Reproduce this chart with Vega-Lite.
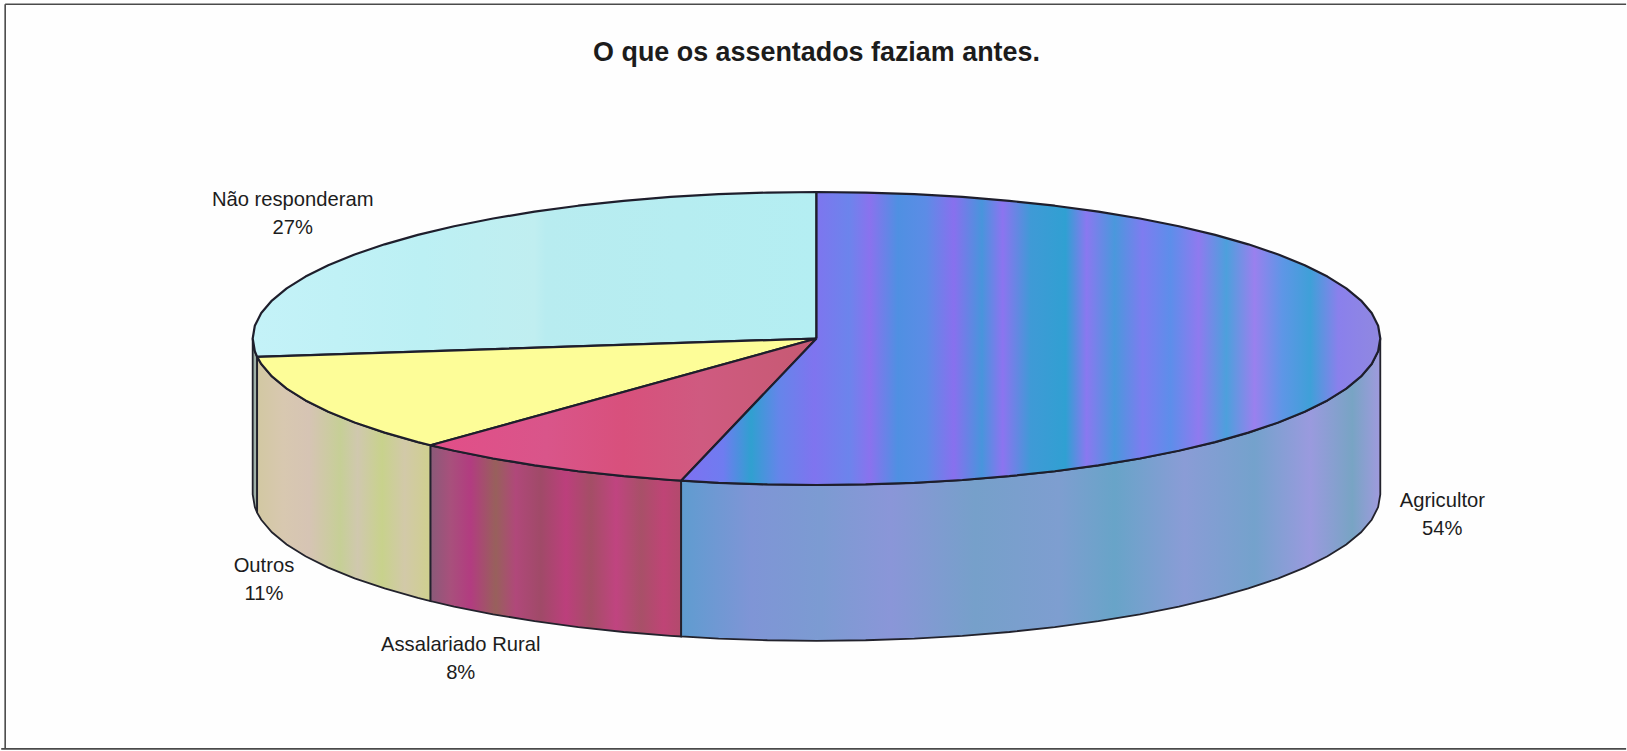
{
  "$schema": "https://vega.github.io/schema/vega-lite/v6.json",
  "autosize": {"type": "fit", "contains": "padding"},
  "width": 1627,
  "height": 751,
  "padding": 0,
  "background": "#fefefe",
  "view": {"stroke": null},
  "datasets": {
    "topo": [
      {"f":"Agricultor","i":0,"x":0,"y":0},{"f":"Agricultor","i":1,"x":0,"y":25.95},{"f":"Agricultor","i":2,"x":8.72,"y":25.85},{"f":"Agricultor","i":3,"x":17.36,"y":25.56},{"f":"Agricultor","i":4,"x":25.88,"y":25.07},{"f":"Agricultor","i":5,"x":34.2,"y":24.39},{"f":"Agricultor","i":6,"x":42.26,"y":23.52},{"f":"Agricultor","i":7,"x":50,"y":22.47},{"f":"Agricultor","i":8,"x":57.36,"y":21.26},{"f":"Agricultor","i":9,"x":64.28,"y":19.88},{"f":"Agricultor","i":10,"x":70.71,"y":18.35},{"f":"Agricultor","i":11,"x":76.6,"y":16.68},{"f":"Agricultor","i":12,"x":81.92,"y":14.88},{"f":"Agricultor","i":13,"x":86.6,"y":12.98},{"f":"Agricultor","i":14,"x":90.63,"y":10.97},{"f":"Agricultor","i":15,"x":93.97,"y":8.88},{"f":"Agricultor","i":16,"x":96.59,"y":6.72},{"f":"Agricultor","i":17,"x":98.48,"y":4.51},{"f":"Agricultor","i":18,"x":99.62,"y":2.26},{"f":"Agricultor","i":19,"x":100,"y":0},
      {"f":"Agricultor","i":20,"x":99.62,"y":-2.26},{"f":"Agricultor","i":21,"x":98.48,"y":-4.51},{"f":"Agricultor","i":22,"x":96.59,"y":-6.72},{"f":"Agricultor","i":23,"x":93.97,"y":-8.88},{"f":"Agricultor","i":24,"x":90.63,"y":-10.97},{"f":"Agricultor","i":25,"x":86.6,"y":-12.98},{"f":"Agricultor","i":26,"x":81.92,"y":-14.88},{"f":"Agricultor","i":27,"x":76.6,"y":-16.68},{"f":"Agricultor","i":28,"x":70.71,"y":-18.35},{"f":"Agricultor","i":29,"x":64.28,"y":-19.88},{"f":"Agricultor","i":30,"x":57.36,"y":-21.26},{"f":"Agricultor","i":31,"x":50,"y":-22.47},{"f":"Agricultor","i":32,"x":42.26,"y":-23.52},{"f":"Agricultor","i":33,"x":34.2,"y":-24.39},{"f":"Agricultor","i":34,"x":25.88,"y":-25.07},{"f":"Agricultor","i":35,"x":17.36,"y":-25.56},{"f":"Agricultor","i":36,"x":8.72,"y":-25.85},{"f":"Agricultor","i":37,"x":0,"y":-25.95},{"f":"Agricultor","i":38,"x":-8.72,"y":-25.85},{"f":"Agricultor","i":39,"x":-17.36,"y":-25.56},{"f":"Agricultor","i":40,"x":-24,"y":-25.19},{"f":"Agricultor","i":41,"x":0,"y":0},
      {"f":"Assalariado Rural","i":0,"x":0,"y":0},{"f":"Assalariado Rural","i":1,"x":-24,"y":-25.19},{"f":"Assalariado Rural","i":2,"x":-25.88,"y":-25.07},{"f":"Assalariado Rural","i":3,"x":-34.2,"y":-24.39},{"f":"Assalariado Rural","i":4,"x":-42.26,"y":-23.52},{"f":"Assalariado Rural","i":5,"x":-50,"y":-22.47},{"f":"Assalariado Rural","i":6,"x":-57.36,"y":-21.26},{"f":"Assalariado Rural","i":7,"x":-64.28,"y":-19.88},{"f":"Assalariado Rural","i":8,"x":-68.45,"y":-18.92},{"f":"Assalariado Rural","i":9,"x":0,"y":0},
      {"f":"Outros","i":0,"x":0,"y":0},{"f":"Outros","i":1,"x":-68.45,"y":-18.92},{"f":"Outros","i":2,"x":-70.71,"y":-18.35},{"f":"Outros","i":3,"x":-76.6,"y":-16.68},{"f":"Outros","i":4,"x":-81.92,"y":-14.88},{"f":"Outros","i":5,"x":-86.6,"y":-12.98},{"f":"Outros","i":6,"x":-90.63,"y":-10.97},{"f":"Outros","i":7,"x":-93.97,"y":-8.88},{"f":"Outros","i":8,"x":-96.59,"y":-6.72},{"f":"Outros","i":9,"x":-98.48,"y":-4.51},{"f":"Outros","i":10,"x":-99.21,"y":-3.25},{"f":"Outros","i":11,"x":0,"y":0},
      {"f":"Não responderam","i":0,"x":0,"y":0},{"f":"Não responderam","i":1,"x":-99.21,"y":-3.25},{"f":"Não responderam","i":2,"x":-99.62,"y":-2.26},{"f":"Não responderam","i":3,"x":-100,"y":0},{"f":"Não responderam","i":4,"x":-99.62,"y":2.26},{"f":"Não responderam","i":5,"x":-98.48,"y":4.51},{"f":"Não responderam","i":6,"x":-96.59,"y":6.72},{"f":"Não responderam","i":7,"x":-93.97,"y":8.88},{"f":"Não responderam","i":8,"x":-90.63,"y":10.97},{"f":"Não responderam","i":9,"x":-86.6,"y":12.98},{"f":"Não responderam","i":10,"x":-81.92,"y":14.88},{"f":"Não responderam","i":11,"x":-76.6,"y":16.68},{"f":"Não responderam","i":12,"x":-70.71,"y":18.35},{"f":"Não responderam","i":13,"x":-64.28,"y":19.88},{"f":"Não responderam","i":14,"x":-57.36,"y":21.26},{"f":"Não responderam","i":15,"x":-50,"y":22.47},{"f":"Não responderam","i":16,"x":-42.26,"y":23.52},{"f":"Não responderam","i":17,"x":-34.2,"y":24.39},{"f":"Não responderam","i":18,"x":-25.88,"y":25.07},{"f":"Não responderam","i":19,"x":-17.36,"y":25.56},{"f":"Não responderam","i":20,"x":-8.72,"y":25.85},{"f":"Não responderam","i":21,"x":0,"y":25.95},{"f":"Não responderam","i":22,"x":0,"y":0}
    ],
    "lateral": [
      {"f":"Agricultor","x":-24,"y":-25.19,"y2":-52.79},{"f":"Agricultor","x":-17.36,"y":-25.56,"y2":-53.16},{"f":"Agricultor","x":-8.72,"y":-25.85,"y2":-53.45},{"f":"Agricultor","x":0,"y":-25.95,"y2":-53.55},{"f":"Agricultor","x":8.72,"y":-25.85,"y2":-53.45},{"f":"Agricultor","x":17.36,"y":-25.56,"y2":-53.16},{"f":"Agricultor","x":25.88,"y":-25.07,"y2":-52.67},{"f":"Agricultor","x":34.2,"y":-24.39,"y2":-51.99},{"f":"Agricultor","x":42.26,"y":-23.52,"y2":-51.12},{"f":"Agricultor","x":50,"y":-22.47,"y2":-50.07},{"f":"Agricultor","x":57.36,"y":-21.26,"y2":-48.86},{"f":"Agricultor","x":64.28,"y":-19.88,"y2":-47.48},{"f":"Agricultor","x":70.71,"y":-18.35,"y2":-45.95},{"f":"Agricultor","x":76.6,"y":-16.68,"y2":-44.28},{"f":"Agricultor","x":81.92,"y":-14.88,"y2":-42.48},{"f":"Agricultor","x":86.6,"y":-12.98,"y2":-40.58},{"f":"Agricultor","x":90.63,"y":-10.97,"y2":-38.57},{"f":"Agricultor","x":93.97,"y":-8.88,"y2":-36.48},{"f":"Agricultor","x":96.59,"y":-6.72,"y2":-34.32},{"f":"Agricultor","x":98.48,"y":-4.51,"y2":-32.11},{"f":"Agricultor","x":99.62,"y":-2.26,"y2":-29.86},{"f":"Agricultor","x":100,"y":0,"y2":-27.6},
      {"f":"Assalariado Rural","x":-68.45,"y":-18.92,"y2":-46.52},{"f":"Assalariado Rural","x":-64.28,"y":-19.88,"y2":-47.48},{"f":"Assalariado Rural","x":-57.36,"y":-21.26,"y2":-48.86},{"f":"Assalariado Rural","x":-50,"y":-22.47,"y2":-50.07},{"f":"Assalariado Rural","x":-42.26,"y":-23.52,"y2":-51.12},{"f":"Assalariado Rural","x":-34.2,"y":-24.39,"y2":-51.99},{"f":"Assalariado Rural","x":-25.88,"y":-25.07,"y2":-52.67},{"f":"Assalariado Rural","x":-24,"y":-25.19,"y2":-52.79},
      {"f":"Outros","x":-99.21,"y":-3.25,"y2":-30.85},{"f":"Outros","x":-98.48,"y":-4.51,"y2":-32.11},{"f":"Outros","x":-96.59,"y":-6.72,"y2":-34.32},{"f":"Outros","x":-93.97,"y":-8.88,"y2":-36.48},{"f":"Outros","x":-90.63,"y":-10.97,"y2":-38.57},{"f":"Outros","x":-86.6,"y":-12.98,"y2":-40.58},{"f":"Outros","x":-81.92,"y":-14.88,"y2":-42.48},{"f":"Outros","x":-76.6,"y":-16.68,"y2":-44.28},{"f":"Outros","x":-70.71,"y":-18.35,"y2":-45.95},{"f":"Outros","x":-68.45,"y":-18.92,"y2":-46.52},
      {"f":"Não responderam","x":-100,"y":0,"y2":-27.6},{"f":"Não responderam","x":-99.62,"y":-2.26,"y2":-29.86},{"f":"Não responderam","x":-99.21,"y":-3.25,"y2":-30.85}
    ],
    "fatias": [
      {"f":"Agricultor","parte":0.54,"x":111.0,"y":-31.3},
      {"f":"Assalariado Rural","parte":0.08,"x":-63.1,"y":-56.7},
      {"f":"Outros","parte":0.11,"x":-98.0,"y":-42.7},
      {"f":"Não responderam","parte":0.27,"x":-92.9,"y":22.0}
    ],
    "moldura": [
      {"x":-143.9,"x2":143.6,"y":59.2,"y2":59.2,"peso":"fino"},
      {"x":-143.9,"x2":-143.9,"y":59.2,"y2":-72.7,"peso":"fino"},
      {"x":-144.6,"x2":143.6,"y":-72.7,"y2":-72.7,"peso":"forte"}
    ],
    "titulo": [{"t":"O que os assentados faziam antes.","x":0,"y":50.5}]
  },
  "layer": [
    {
      "data": {"name": "moldura"},
      "mark": {"type": "rule", "stroke": "#4a4a4a", "strokeWidth": 1.6},
      "encoding": {
        "x": {"field": "x", "type": "quantitative", "axis": null, "scale": {"domain": [-144.64, 143.58], "nice": false, "zero": false}},
        "x2": {"field": "x2"},
        "y": {"field": "y", "type": "quantitative", "axis": null, "scale": {"domain": [-73.07, 59.96], "nice": false, "zero": false}},
        "y2": {"field": "y2"},
        "strokeWidth": {"field": "peso", "type": "nominal", "legend": null, "scale": {"domain": ["fino", "forte"], "range": [1.5, 2.6]}}
      }
    },
    {
      "data": {"name": "lateral"},
      "transform": [{"filter": "datum.f === 'Não responderam'"}],
      "mark": {"type": "area", "fill": "#9fb0a8", "stroke": "#22222c", "strokeWidth": 1.8},
      "encoding": {"x": {"field": "x", "type": "quantitative"}, "y": {"field": "y", "type": "quantitative"}, "y2": {"field": "y2"}}
    },
    {
      "data": {"name": "lateral"},
      "transform": [{"filter": "datum.f === 'Outros'"}],
      "mark": {"type": "area", "stroke": "#22222c", "strokeWidth": 1.8, "fill": {"gradient": "linear", "x1": 0, "y1": 0, "x2": 1, "y2": 0, "stops": [
        {"offset": 0, "color": "#d2c8a2"}, {"offset": 0.15, "color": "#d8c8b0"}, {"offset": 0.3, "color": "#d6c4b4"}, {"offset": 0.48, "color": "#c6cf96"}, {"offset": 0.58, "color": "#d0c8ae"}, {"offset": 0.72, "color": "#c8d28c"}, {"offset": 0.85, "color": "#d2c9a8"}, {"offset": 1, "color": "#cfd08e"}
      ]}},
      "encoding": {"x": {"field": "x", "type": "quantitative"}, "y": {"field": "y", "type": "quantitative"}, "y2": {"field": "y2"}}
    },
    {
      "data": {"name": "lateral"},
      "transform": [{"filter": "datum.f === 'Assalariado Rural'"}],
      "mark": {"type": "area", "stroke": "#22222c", "strokeWidth": 1.8, "fill": {"gradient": "linear", "x1": 0, "y1": 0, "x2": 1, "y2": 0, "stops": [
        {"offset": 0, "color": "#8a5a78"}, {"offset": 0.08, "color": "#a8507c"}, {"offset": 0.16, "color": "#b23c80"}, {"offset": 0.26, "color": "#98605c"}, {"offset": 0.34, "color": "#b0487a"}, {"offset": 0.44, "color": "#a04a68"}, {"offset": 0.54, "color": "#bc3f7c"}, {"offset": 0.64, "color": "#a44e66"}, {"offset": 0.74, "color": "#c04480"}, {"offset": 0.84, "color": "#a85068"}, {"offset": 0.93, "color": "#bf4476"}, {"offset": 1, "color": "#b24a6c"}
      ]}},
      "encoding": {"x": {"field": "x", "type": "quantitative"}, "y": {"field": "y", "type": "quantitative"}, "y2": {"field": "y2"}}
    },
    {
      "data": {"name": "lateral"},
      "transform": [{"filter": "datum.f === 'Agricultor'"}],
      "mark": {"type": "area", "stroke": "#22222c", "strokeWidth": 1.8, "fill": {"gradient": "linear", "x1": 0, "y1": 0, "x2": 1, "y2": 0, "stops": [
        {"offset": 0, "color": "#5f9cd0"}, {"offset": 0.1, "color": "#7f95d6"}, {"offset": 0.2, "color": "#7c9bd2"}, {"offset": 0.3, "color": "#8a96d8"}, {"offset": 0.42, "color": "#76a0ca"}, {"offset": 0.54, "color": "#7e9ed0"}, {"offset": 0.62, "color": "#68a4c8"}, {"offset": 0.72, "color": "#8a9cd6"}, {"offset": 0.82, "color": "#74a2cc"}, {"offset": 0.9, "color": "#9a9ade"}, {"offset": 0.96, "color": "#78a4c4"}, {"offset": 1, "color": "#a09ade"}
      ]}},
      "encoding": {"x": {"field": "x", "type": "quantitative"}, "y": {"field": "y", "type": "quantitative"}, "y2": {"field": "y2"}}
    },
    {
      "data": {"name": "topo"},
      "transform": [{"filter": "datum.f === 'Não responderam'"}],
      "mark": {"type": "line", "stroke": "#1e1e2c", "strokeWidth": 2.2, "strokeJoin": "round", "fill": {"gradient": "linear", "x1": 0, "y1": 0, "x2": 1, "y2": 0, "stops": [
        {"offset": 0, "color": "#c4f2f8"}, {"offset": 0.3, "color": "#bcf0f4"}, {"offset": 0.5, "color": "#c0eef0"}, {"offset": 0.52, "color": "#b8ecf0"}, {"offset": 1, "color": "#b4eef2"}
      ]}},
      "encoding": {"x": {"field": "x", "type": "quantitative"}, "y": {"field": "y", "type": "quantitative"}, "order": {"field": "i", "type": "quantitative"}}
    },
    {
      "data": {"name": "topo"},
      "transform": [{"filter": "datum.f === 'Outros'"}],
      "mark": {"type": "line", "fill": "#fdfd98", "stroke": "#1e1e2c", "strokeWidth": 2.2, "strokeJoin": "round"},
      "encoding": {"x": {"field": "x", "type": "quantitative"}, "y": {"field": "y", "type": "quantitative"}, "order": {"field": "i", "type": "quantitative"}}
    },
    {
      "data": {"name": "topo"},
      "transform": [{"filter": "datum.f === 'Assalariado Rural'"}],
      "mark": {"type": "line", "stroke": "#1e1e2c", "strokeWidth": 2.2, "strokeJoin": "round", "fill": {"gradient": "linear", "x1": 0, "y1": 0, "x2": 1, "y2": 0, "stops": [
        {"offset": 0, "color": "#e24e88"}, {"offset": 0.3, "color": "#d9558a"}, {"offset": 0.5, "color": "#d8507c"}, {"offset": 0.7, "color": "#cf5a80"}, {"offset": 1, "color": "#c65a72"}
      ]}},
      "encoding": {"x": {"field": "x", "type": "quantitative"}, "y": {"field": "y", "type": "quantitative"}, "order": {"field": "i", "type": "quantitative"}}
    },
    {
      "data": {"name": "topo"},
      "transform": [{"filter": "datum.f === 'Agricultor'"}],
      "mark": {"type": "line", "stroke": "#1e1e2c", "strokeWidth": 2.2, "strokeJoin": "round", "fill": {"gradient": "linear", "x1": 0, "y1": 0, "x2": 1, "y2": 0, "stops": [
        {"offset": 0, "color": "#7f70f2"}, {"offset": 0.06, "color": "#6f7cf0"}, {"offset": 0.1, "color": "#30a0d0"}, {"offset": 0.14, "color": "#6585ea"}, {"offset": 0.19, "color": "#7f74ef"}, {"offset": 0.24, "color": "#6c84ec"}, {"offset": 0.27, "color": "#8a72ee"}, {"offset": 0.31, "color": "#4f90e2"}, {"offset": 0.35, "color": "#5c8ce6"}, {"offset": 0.39, "color": "#8870ee"}, {"offset": 0.43, "color": "#4895dc"}, {"offset": 0.46, "color": "#8c74f0"}, {"offset": 0.5, "color": "#3f9ad6"}, {"offset": 0.55, "color": "#30a0d2"}, {"offset": 0.58, "color": "#8a78f0"}, {"offset": 0.62, "color": "#4a98dc"}, {"offset": 0.66, "color": "#7e7cf0"}, {"offset": 0.7, "color": "#5d8eea"}, {"offset": 0.74, "color": "#8f7aef"}, {"offset": 0.78, "color": "#4da0dc"}, {"offset": 0.82, "color": "#9a80ee"}, {"offset": 0.86, "color": "#5e96e6"}, {"offset": 0.9, "color": "#3fa0d8"}, {"offset": 0.94, "color": "#8a80ec"}, {"offset": 1, "color": "#9088e0"}
      ]}},
      "encoding": {"x": {"field": "x", "type": "quantitative"}, "y": {"field": "y", "type": "quantitative"}, "order": {"field": "i", "type": "quantitative"}}
    },
    {
      "data": {"name": "fatias"},
      "mark": {"type": "text", "font": "Liberation Sans", "fontSize": 20.2, "fill": "#1c1c1c", "align": "center", "baseline": "middle", "dy": -14},
      "encoding": {"x": {"field": "x", "type": "quantitative"}, "y": {"field": "y", "type": "quantitative"}, "text": {"field": "f", "type": "nominal"}}
    },
    {
      "data": {"name": "fatias"},
      "mark": {"type": "text", "font": "Liberation Sans", "fontSize": 20.2, "fill": "#1c1c1c", "align": "center", "baseline": "middle", "dy": 14},
      "encoding": {"x": {"field": "x", "type": "quantitative"}, "y": {"field": "y", "type": "quantitative"}, "text": {"field": "parte", "type": "quantitative", "format": ".0%"}}
    },
    {
      "data": {"name": "titulo"},
      "mark": {"type": "text", "font": "Liberation Sans", "fontWeight": "bold", "fontSize": 26.9, "fill": "#1c1c1c", "align": "center", "baseline": "middle"},
      "encoding": {"x": {"field": "x", "type": "quantitative"}, "y": {"field": "y", "type": "quantitative"}, "text": {"field": "t", "type": "nominal"}}
    }
  ]
}
